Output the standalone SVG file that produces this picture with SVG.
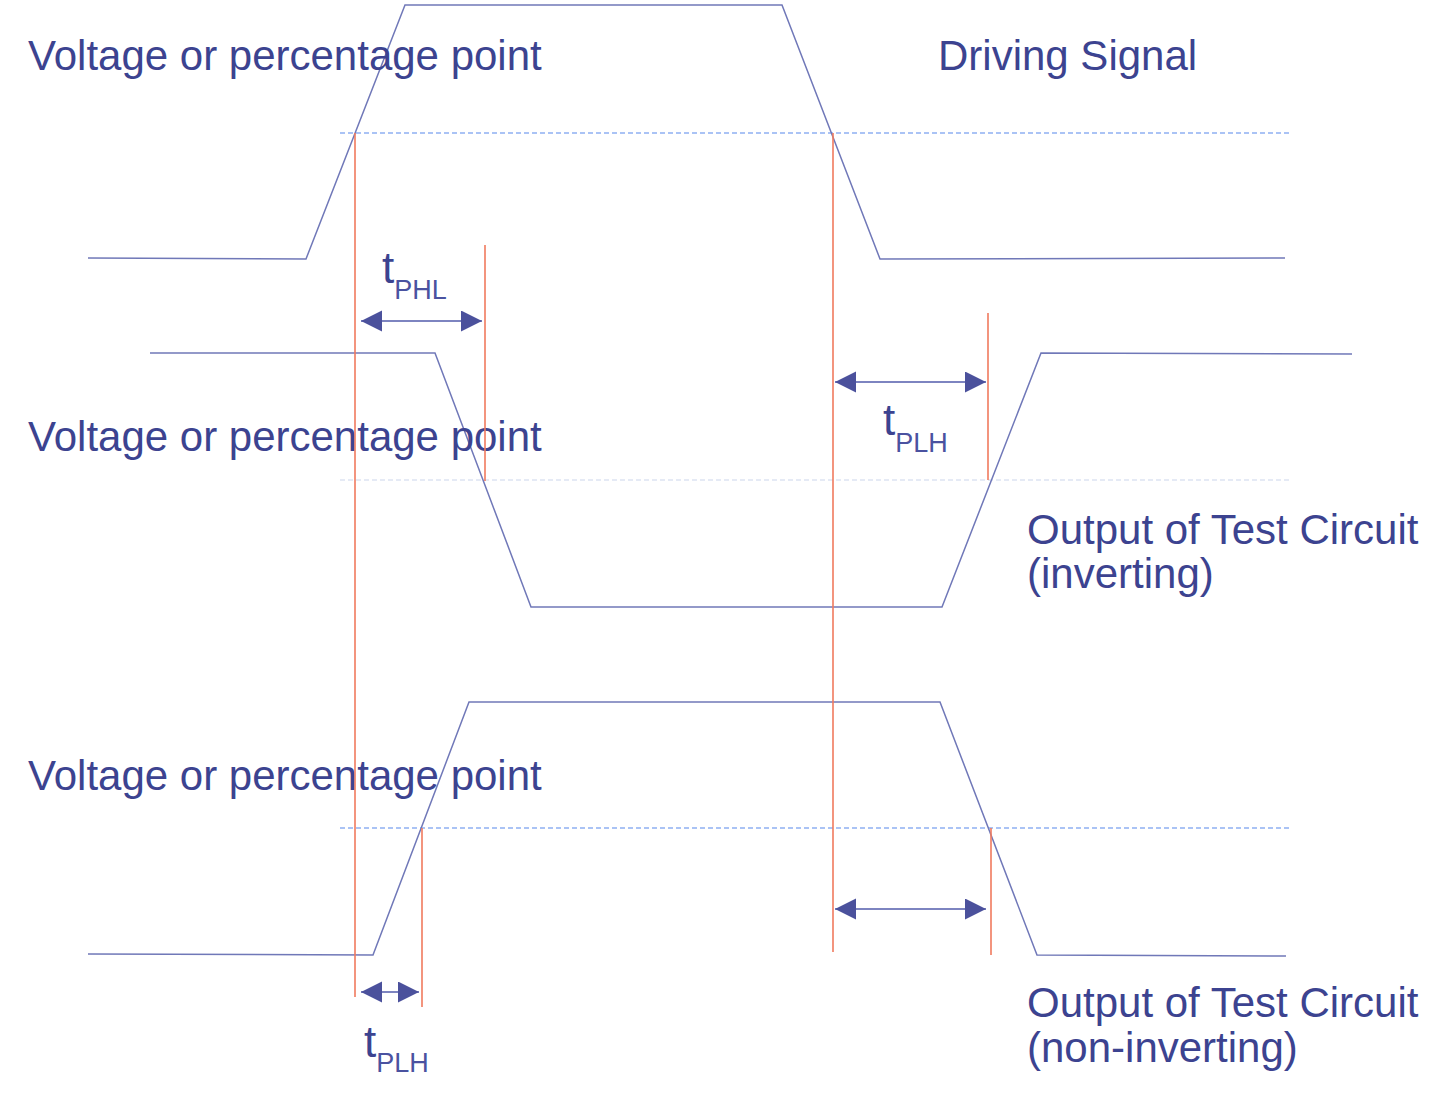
<svg xmlns="http://www.w3.org/2000/svg" width="1456" height="1095" viewBox="0 0 1456 1095">
<style>
  .lbl { font-family: "Liberation Sans", Arial, sans-serif; font-size: 42px; fill: #3c4390; }
  .t { font-family: "Liberation Sans", Arial, sans-serif; font-size: 44px; fill: #3c4390; }
  .sub { font-size: 27px; fill: #4a52a0; }
  .wave { fill: none; stroke: #7078b8; stroke-width: 1.5; }
  .red { stroke: #f07a5e; stroke-width: 1.6; }
  .dash { stroke: #8fb0f2; stroke-width: 1.4; stroke-dasharray: 5 3; }
  .dashlight { stroke: #dde4f2; stroke-width: 1.4; stroke-dasharray: 5 3; }
  .arr { stroke: #7d84c0; stroke-width: 2; marker-start: url(#head); marker-end: url(#head); }
</style>
<defs>
  <marker id="head" markerUnits="userSpaceOnUse" markerWidth="22" markerHeight="22" refX="21" refY="10.5" orient="auto-start-reverse" viewBox="0 0 22 22">
    <path d="M0,0 L21,10.5 L0,21 z" fill="#4b519c"/>
  </marker>
</defs>
<rect width="1456" height="1095" fill="#ffffff"/>

<g id="reference-lines">
  <line class="dash" x1="340" y1="133" x2="1290" y2="133"/>
  <line class="dashlight" x1="340" y1="480" x2="1290" y2="480"/>
  <line class="dash" x1="340" y1="828" x2="1290" y2="828"/>
</g>

<g id="driving-signal">
  <polyline class="wave" points="88,258 306,259 405,5 782,5 880,259 1285,258"/>
  <text class="lbl" x="938" y="70">Driving Signal</text>
  <text class="lbl" x="28" y="70">Voltage or percentage point</text>
</g>

<g id="inverting-output">
  <polyline class="wave" points="150,353 435,353 531,607 942,607 1041,353 1352,354"/>
  <text class="lbl" x="28" y="451">Voltage or percentage point</text>
  <text class="lbl" x="1027" y="544">Output of Test Circuit</text>
  <text class="lbl" x="1027" y="588">(inverting)</text>
</g>

<g id="noninverting-output">
  <polyline class="wave" points="88,954 373,955 469,702 940,702 1037,955 1286,956"/>
  <text class="lbl" x="28" y="790">Voltage or percentage point</text>
  <text class="lbl" x="1027" y="1017">Output of Test Circuit</text>
  <text class="lbl" x="1027" y="1062">(non-inverting)</text>
</g>

<g id="markers">
  <line class="red" x1="355" y1="133" x2="355" y2="997"/>
  <line class="red" x1="485" y1="245" x2="485" y2="481"/>
  <line class="red" x1="833" y1="133" x2="833" y2="952"/>
  <line class="red" x1="988" y1="313" x2="988" y2="480"/>
  <line class="red" x1="422" y1="828" x2="422" y2="1007"/>
  <line class="red" x1="991" y1="828" x2="991" y2="955"/>
</g>

<g id="connectors">
  <line class="arr" x1="361" y1="321" x2="482" y2="321"/>
  <line class="arr" x1="835" y1="382" x2="986" y2="382"/>
  <line class="arr" x1="835" y1="909" x2="986" y2="909"/>
  <line class="arr" x1="361" y1="992" x2="419" y2="992"/>
</g>

<g id="delay-labels">
  <text class="t" x="382" y="283">t<tspan class="sub" dy="16">PHL</tspan></text>
  <text class="t" x="883" y="435">t<tspan class="sub" dy="17">PLH</tspan></text>
  <text class="t" x="364" y="1057">t<tspan class="sub" dy="15">PLH</tspan></text>
</g>
</svg>
